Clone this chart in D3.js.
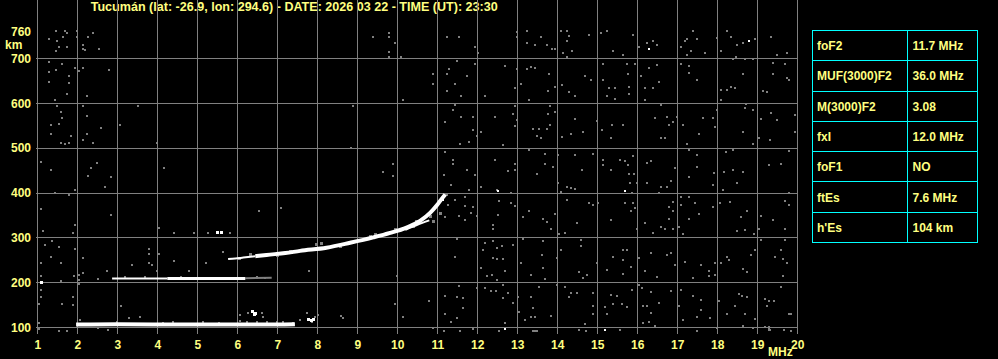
<!DOCTYPE html>
<html>
<head>
<meta charset="utf-8">
<title>Ionogram Tucumán</title>
<script src="https://cdn.jsdelivr.net/npm/d3@7/dist/d3.min.js"></script>
<style>
body {
    margin: 0;
    background: #000;
}
svg { display: block; }
text {
    font-family: "Liberation Sans", Arial, sans-serif;
    font-weight: bold;
    font-size: 12px;
    fill: #ffff80;
}
.grid { stroke: #808080; stroke-width: 1px; shape-rendering: crispEdges; }
.noise { fill: #808080; shape-rendering: crispEdges; }
.bright { fill: #fff; shape-rendering: crispEdges; }
.frame { fill: none; stroke: #ffff00; stroke-width: 1px; shape-rendering: crispEdges; }
.cell { fill: none; stroke: #00ffff; stroke-width: 1px; shape-rendering: crispEdges; }
.trace { fill: none; stroke: #fff; stroke-linecap: butt; }
.dim { fill: none; stroke: #808080; }
</style>
</head>
<body>
<div id="chart"></div>
<script>
var title = "Tucumán (lat: -26.9, lon: 294.6) - DATE: 2026 03 22 - TIME (UT): 23:30";

var freqTicks   = d3.range(1, 21);
var heightGrid  = [100, 200, 300, 400, 500, 600, 700];
var heightTicks = [100, 200, 300, 400, 500, 600, 700, 760];

var paramNames  = ["foF2", "MUF(3000)F2", "M(3000)F2", "fxI", "foF1", "ftEs", "h'Es"];
var paramValues = ["11.7 MHz", "36.0 MHz", "3.08", "12.0 MHz", "NO", "7.6 MHz", "104 km"];

// echo traces [MHz, km]
var f2Lead  = [[5.77, 252], [5.95, 253], [6.15, 255], [6.45, 258]];
var f2Trace = [[6.45, 258], [6.73, 261], [7.2, 265], [7.57, 270], [8.23, 277], [8.82, 288],
               [9.4, 300], [9.82, 310], [10.23, 322], [10.57, 337], [10.82, 355],
               [11.0, 373], [11.1, 385], [11.2, 396]];
var f2Split = [[10.2, 317], [10.5, 328], [10.8, 338]];
var f2Fringe = [[6.32, 261], [7.32, 268], [7.99, 285], [8.11, 287], [8.57, 280], [9.32, 302],
                [9.45, 306], [9.74, 309], [9.95, 317], [10.4, 324], [10.49, 335], [10.9, 335],
                [10.82, 346], [11.07, 354], [11.2, 395], [6.05, 252], [7.0, 260]];
var esTrace = [[1.97, 105.5], [3, 106], [5, 105.5], [7, 105.5], [7.44, 106]];
var es2Dim  = [[2.87, 208.5], [3.5, 208.5], [4.25, 208.5]];
var es2Trace = [[4.25, 208.5], [5, 208.5], [5.7, 208.5], [6.2, 208.5]];
var es2Tail = [[6.2, 209], [6.86, 210]];
var esBlob  = [[6.38, 134], [6.45, 130], [6.42, 128], [7.78, 116], [7.85, 114], [7.9, 117],
               [5.5, 311], [5.6, 311], [1.1, 200]];
var esFringe = [[2.07, 116], [2.98, 112], [3.28, 120], [3.57, 122], [4.15, 110], [4.4, 112],
                [5.15, 112], [5.53, 110], [6.07, 127], [6.07, 114], [6.28, 132], [6.61, 131],
                [6.65, 122], [6.23, 112], [6.48, 112], [6.73, 112], [6.98, 112], [7.15, 112],
                [7.4, 108], [7.57, 116], [7.86, 112], [7.94, 123], [8.03, 127], [7.73, 131],
                [5.27, 311], [5.82, 311], [3.2, 211], [3.7, 211], [4.6, 212], [6.5, 211],
                [6.5, 209.5], [6.7, 209]];

// scattered interference dots [MHz, km]
var noiseLeft = [
  [1.3,744],[1.48,762],[1.69,762],[1.73,757],[1.5,739],[1.65,748],[1.53,726],[1.48,717],[1.73,726],
  [1.98,762],[1.98,748],[2.28,747],[2.38,757],[2.15,730],[2.15,720],[2.19,718],[2.54,721],[1.3,692],
  [1.63,687],[1.3,670],[1.48,674],[1.94,678],[2.03,672],[2.13,678],[1.78,660],[1.3,646],[1.78,644],
  [2.79,674],[1.73,620],[1.44,607],[2.25,616],[1.5,593],[2.13,593],[1.58,581],[1.61,567],[2.25,571],
  [3.53,593],[8.88,593],[9.38,748],[9.8,757],[9.8,748],[9.94,735],[9.8,713],[9.8,704],[10.09,704],
  [10.15,607],[10.88,665],[10.88,643],
  [1.33,550],[1.55,553],[1.33,531],[1.83,527],[1.58,510],[1.69,508],[1.79,510],[2.58,545],[2.23,531],
  [2.13,518],[2.38,510],[3.98,510],[3.07,550],[1.08,469],[1.33,451],[2.48,466],[2.33,456],[2.28,437],
  [2.83,436],[2.69,413],[1.94,405],[1.79,395],[1.44,400],[1.08,363],[2.83,350],[1.13,315],[1.94,328],
  [1.88,311],[1.19,283],[1.38,293],[1.54,279],[1.94,274],[1.33,257],[1.08,244],[1.59,242],[2.13,253],
  [2.13,220],[2.04,216],[1.92,213],[1.08,213],[1.59,203],[2.04,205],[2.04,195],[1.08,183],[1.08,168],
  [1.88,168],[2.73,224],[2.53,207],[3.38,239],[3.78,274],[3.78,262],[3.78,242],[3.88,239],[3.98,224],
  [4.03,263],[4.18,456],[4.43,311],[4.43,248],[4.78,224],[4.93,309],[4.03,320],
  [1.05,152],[1.63,152],[1.88,149],[3.08,147],[1.03,108],[1.03,95],[1.53,92],[1.73,90],[2.78,93],
  [2.53,97],[9.94,152],[10.15,122],[10.78,157],[8.65,120],[8.58,125],[10.88,97],
  [6.53,360],[7.09,365],[5.22,244],[5.64,268],[7.78,226],[9.99,213],
  [8.89,594],[10.14,607],[8.84,499],[9.89,465],[9.64,447],[9.89,437]
];
var noiseRight = [
  [11.24,748],[11.53,748],[11.95,725],[12.03,712],[12.99,759],[12.99,748],[13.24,760],[13.25,734],
  [13.45,730],[13.6,748],[13.74,730],[13.86,721],[13.95,721],[14.09,762],[14.24,762],[14.28,749],
  [14.24,738],[14.14,712],[14.24,704],[14.36,717],[14.78,753],[15.09,756],[15.24,762],[15.4,717],
  [15.64,708],[15.89,753],[16.04,725],[16.25,734],[16.39,739],[16.5,730],[17.09,725],
  [17.2,739],[17.25,743],[17.24,708],[17.34,716],[17.49,743],[17.7,712],[17.39,762],[17.99,745],
  [18.1,717],[18.24,762],[18.35,748],[18.49,730],[18.64,734],[18.95,743],[19.35,748],[19.74,712],
  [19.49,708],[18.7,699],[18.89,699],[18.39,699],[18.47,704],
  [11.24,665],[11.3,675],[11.49,693],[11.45,643],[11.74,660],[11.24,626],[11.59,615],[11.95,687],
  [12.2,615],[12.7,682],[12.95,634],[12.99,677],[13.09,643],[13.24,675],[13.34,681],[13.45,678],
  [13.28,608],[13.78,626],[13.8,665],[13.95,637],[14.11,641],[14.28,625],[14.45,615],[14.7,661],
  [14.84,652],[15.15,687],[15.14,652],[15.25,615],[15.3,634],[15.45,634],[15.45,610],[15.74,687],
  [15.78,665],[15.8,637],[15.8,620],[15.95,687],[16.09,661],[16.2,634],[16.2,608],[16.28,678],
  [16.39,634],[16.49,684],[16.54,647],[17.09,687],[17.29,683],[17.29,667],[17.49,652],[18.1,630],
  [18.24,630],[18.35,637],[18.45,634],[18.1,608],[18.64,665],[19.14,628],[19.24,625],[19.39,689],
  [19.7,687],[19.74,656],[19.78,652],[19.4,665],
  [11.4,585],[11.45,595],[11.2,558],[11.59,570],[11.89,570],[11.9,541],[11.99,526],[12.1,535],
  [12.45,570],[12.9,576],[12.95,593],[12.95,548],[13.0,563],[13.39,543],[13.53,543],[13.74,543],
  [13.6,521],[13.49,526],[13.82,593],[13.95,580],[13.82,552],[13.78,576],[14.11,524],[14.34,531],
  [14.45,565],[14.65,535],[14.99,561],[15.11,541],[15.34,522],[15.36,550],[15.64,550],[16.45,567],
  [16.59,595],[16.74,570],[16.8,550],[16.89,558],[16.99,570],[16.59,522],[16.7,522],[17.14,550],
  [17.55,531],[17.65,567],[17.89,567],[17.95,546],[17.99,585],[18.7,590],[18.72,598],[18.9,585],
  [19.09,565],[19.35,578],[19.49,563],[19.95,573],[19.95,535],[18.64,535],[18.89,509],[19.03,522],
  [19.32,518],[17.24,509],[11.57,509],[11.8,513],[12.65,506],
  [11.2,491],[11.4,474],[11.4,464],[11.17,439],[11.74,451],[11.95,439],[12.45,474],[12.95,464],
  [12.95,451],[12.78,448],[13.3,496],[13.49,442],[13.7,486],[13.7,464],[13.89,457],[14.03,485],
  [14.45,483],[14.61,451],[14.89,486],[15.15,474],[15.14,461],[15.34,451],[15.57,474],[15.7,471],
  [15.78,461],[15.9,481],[15.8,442],[15.92,442],[16.24,466],[16.34,470],[16.95,454],[17.28,496],
  [17.5,483],[17.49,457],[17.28,434],[17.92,444],[18.17,446],[18.22,491],[18.4,496],[18.4,451],
  [18.64,446],[19.3,461],[19.59,464],[19.8,492],
  [11.34,417],[11.8,407],[12.09,413],[12.49,406],[12.84,399],[11.24,395],[11.28,373],[11.45,384],
  [11.7,370],[11.7,391],[11.89,369],[11.84,355],[11.2,346],[11.53,348],[11.7,338],[11.99,348],
  [12.53,350],[12.55,382],[12.39,328],[12.4,318],[12.95,370],[12.84,378],[13.14,346],[13.3,360],
  [13.65,341],[13.75,335],[13.84,318],[13.95,352],[14.05,308],[14.2,309],[14.03,422],[14.09,402],
  [14.24,413],[14.34,410],[14.45,408],[14.24,384],[14.5,333],[14.8,378],[14.9,372],[15.03,378],
  [15.34,338],[15.82,422],[15.99,422],[15.86,399],[15.7,376],[15.9,376],[15.95,365],[15.85,360],
  [16.19,333],[16.39,309],[16.24,422],[16.59,413],[16.74,413],[16.85,425],[16.54,399],[16.8,369],
  [16.89,380],[16.89,358],[16.6,324],[16.7,318],[16.8,341],[16.89,318],[17.05,324],[17.14,308],
  [17.09,391],[17.28,391],[17.09,373],[17.45,378],[17.28,341],[17.55,352],[17.89,417],[18.14,406],
  [17.9,369],[18.07,378],[18.32,380],[18.49,422],[18.49,315],[18.59,345],[18.7,317],[18.74,360],
  [18.93,308],[19.09,348],[19.03,318],[19.39,338],[19.7,318],[19.7,382],[19.78,373],[19.78,399],
  [11.49,296],[11.45,257],[12.2,288],[12.39,293],[12.49,276],[12.61,280],[12.89,283],[12.14,271],
  [12.39,253],[12.5,251],[12.64,251],[12.09,231],[12.24,213],[12.36,216],[12.7,226],[12.49,205],
  [13.15,296],[13.64,293],[13.09,244],[13.34,216],[13.61,261],[13.64,231],[13.7,207],[13.99,253],
  [14.09,271],[14.59,294],[14.59,280],[14.55,222],[14.65,209],[14.74,216],[14.99,244],[15.25,227],
  [15.39,257],[15.64,271],[15.74,271],[15.65,250],[15.64,219],[15.84,235],[16.04,253],[15.99,318],
  [16.2,226],[16.34,266],[16.49,211],[16.75,261],[16.84,266],[16.95,239],[17.2,246],[17.4,209],
  [17.59,239],[17.8,226],[17.8,213],[17.94,242],[17.94,216],[18.25,256],[18.3,250],[18.1,244],
  [18.64,229],[18.74,222],[18.84,261],[18.95,271],[19.45,256],[19.59,271],[19.64,251],[19.74,244],
  [19.64,213],[19.09,294],[19.7,294],
  [11.53,192],[11.2,169],[11.49,166],[11.64,164],[11.64,142],[11.2,129],[11.49,120],[11.34,112],
  [11.99,186],[12.2,186],[12.34,181],[12.47,181],[12.64,194],[12.64,164],[12.89,154],[12.78,175],
  [12.7,110],[13.03,168],[13.05,134],[13.2,116],[13.34,168],[13.39,142],[13.34,122],[13.45,122],
  [13.55,190],[13.84,125],[13.99,194],[14.2,189],[14.3,168],[14.34,177],[14.5,177],[14.89,177],
  [14.89,147],[14.7,107],[14.89,129],[15.2,144],[15.25,129],[15.34,172],[15.49,169],[15.39,152],
  [15.61,152],[15.74,144],[15.86,183],[16.04,194],[16.11,186],[16.15,146],[16.24,146],[16.34,179],
  [16.34,131],[16.15,110],[16.28,112],[16.45,102],[16.53,154],[16.84,181],[17.05,146],[17.09,183],
  [17.15,116],[17.39,169],[17.59,160],[17.59,137],[17.49,122],[17.82,120],[18.03,157],[18.25,129],
  [18.45,146],[18.55,174],[18.61,169],[18.74,168],[18.7,129],[18.95,117],[19.2,162],[19.3,157],
  [19.42,157],[19.24,147],[19.59,190],[19.78,129],[19.84,129],
  [12.55,92],[13.49,90],[13.4,90],[13.45,90],[14.55,93],[14.72,90],[15.57,93],[16.45,99],[17.49,90],
  [17.99,97],[18.65,102],[18.89,97],[19.2,101],[19.28,93],[19.33,93],[19.67,93],[19.84,90],[11.17,90],
  [11.57,92],[11.9,95],[19.3,97],[19.3,101]
];
var brightDots = [[18.79,739],[16.29,721],[12.53,404],[11.14,387],[11.14,384],[15.7,404],[12.7,95],[15.2,93]];

var width = 998, height = 359;

var x = d3.scaleLinear().domain([1, 20]).range([37.3, 797.3]);
var y = d3.scaleLinear().domain([100, 700]).range([327, 58.3]);

var left = Math.round(x(1)) - 1.5,
    right = Math.round(x(20)) + 0.5,
    top = Math.round(y(764)) - 0.5,
    bottom = Math.round(y(87.5)) + 0.5;

var svg = d3.select('#chart')
    .append('svg')
    .attr('width', width)
    .attr('height', height);

svg.append('rect')
    .attr('width', width)
    .attr('height', height)
    .attr('fill', '#000');

// title
svg.append('text')
    .attr('x', 90.7)
    .attr('y', 11)
    .attr('textLength', 407)
    .attr('lengthAdjust', 'spacingAndGlyphs')
    .text(title);

// grid
var grid = svg.append('g');
grid.selectAll('line.v')
    .data(freqTicks)
    .enter().append('line')
    .attr('class', 'grid')
    .attr('x1', function(d) { return Math.round(x(d)) + 0.5; })
    .attr('x2', function(d) { return Math.round(x(d)) + 0.5; })
    .attr('y1', top)
    .attr('y2', bottom);
grid.selectAll('line.h')
    .data(heightGrid)
    .enter().append('line')
    .attr('class', 'grid')
    .attr('x1', left)
    .attr('x2', right)
    .attr('y1', function(d) { return Math.round(y(d)) + 0.5; })
    .attr('y2', function(d) { return Math.round(y(d)) + 0.5; });

// interference
var plot = svg.append('g');
function dots(data, cls, s) {
    plot.append('g').selectAll('rect')
        .data(data)
        .enter().append('rect')
        .attr('class', cls)
        .attr('x', function(d) { return Math.round(x(d[0]) - s / 2); })
        .attr('y', function(d) { return Math.round(y(d[1]) - s / 2); })
        .attr('width', s)
        .attr('height', s);
}
dots(noiseLeft, 'noise', 2);
dots(noiseRight, 'noise', 2);

// echo traces
var line = d3.line()
    .x(function(d) { return x(d[0]); })
    .y(function(d) { return y(d[1]); })
    .curve(d3.curveMonotoneX);

function trace(data, cls, w) {
    plot.append('path')
        .datum(data)
        .attr('class', cls)
        .attr('stroke-width', w)
        .attr('d', line);
}
trace(es2Tail, 'dim', 2);
dots(esFringe, 'noise', 2);
dots(f2Fringe, 'noise', 3);
trace(esTrace, 'trace', 4);
trace(es2Dim, 'trace', 2);
trace(es2Trace, 'trace', 3);
trace(f2Lead, 'trace', 2);
trace(f2Trace, 'trace', 4);
trace(f2Split, 'trace', 2);
dots(esBlob, 'bright', 3);
dots(brightDots, 'bright', 2);

// frame
svg.append('rect')
    .attr('class', 'frame')
    .attr('x', left - 0.5)
    .attr('y', top)
    .attr('width', right - left + 0.5)
    .attr('height', bottom - top);

// axis labels
svg.append('g').selectAll('text')
    .data(heightTicks)
    .enter().append('text')
    .attr('x', 31)
    .attr('y', function(d) { return y(d) + 4.5; })
    .attr('text-anchor', 'end')
    .text(function(d) { return d; });
svg.append('text')
    .attr('x', 5)
    .attr('y', 49)
    .text('km');

svg.append('g').selectAll('text')
    .data(freqTicks)
    .enter().append('text')
    .attr('x', function(d) { return x(d) + 0.5; })
    .attr('y', 348.5)
    .attr('text-anchor', 'middle')
    .text(function(d) { return d; });
svg.append('text')
    .attr('x', 768)
    .attr('y', 356)
    .text('MHz');

// parameter table
var row = d3.scaleBand()
    .domain(paramNames)
    .range([30.5, 242.5]);
var table = svg.append('g');
var rows = table.selectAll('g')
    .data(paramNames)
    .enter().append('g')
    .attr('transform', function(d) { return 'translate(0,' + row(d) + ')'; });
rows.append('rect')
    .attr('class', 'cell')
    .attr('x', 812.5)
    .attr('width', 95)
    .attr('height', row.bandwidth());
rows.append('rect')
    .attr('class', 'cell')
    .attr('x', 907.5)
    .attr('width', 70)
    .attr('height', row.bandwidth());
rows.append('text')
    .attr('x', 817)
    .attr('y', row.bandwidth() / 2 + 4.5)
    .text(function(d) { return d; });
rows.append('text')
    .attr('x', 912.5)
    .attr('y', row.bandwidth() / 2 + 4.5)
    .text(function(d, i) { return paramValues[i]; });
</script>
</body>
</html>
